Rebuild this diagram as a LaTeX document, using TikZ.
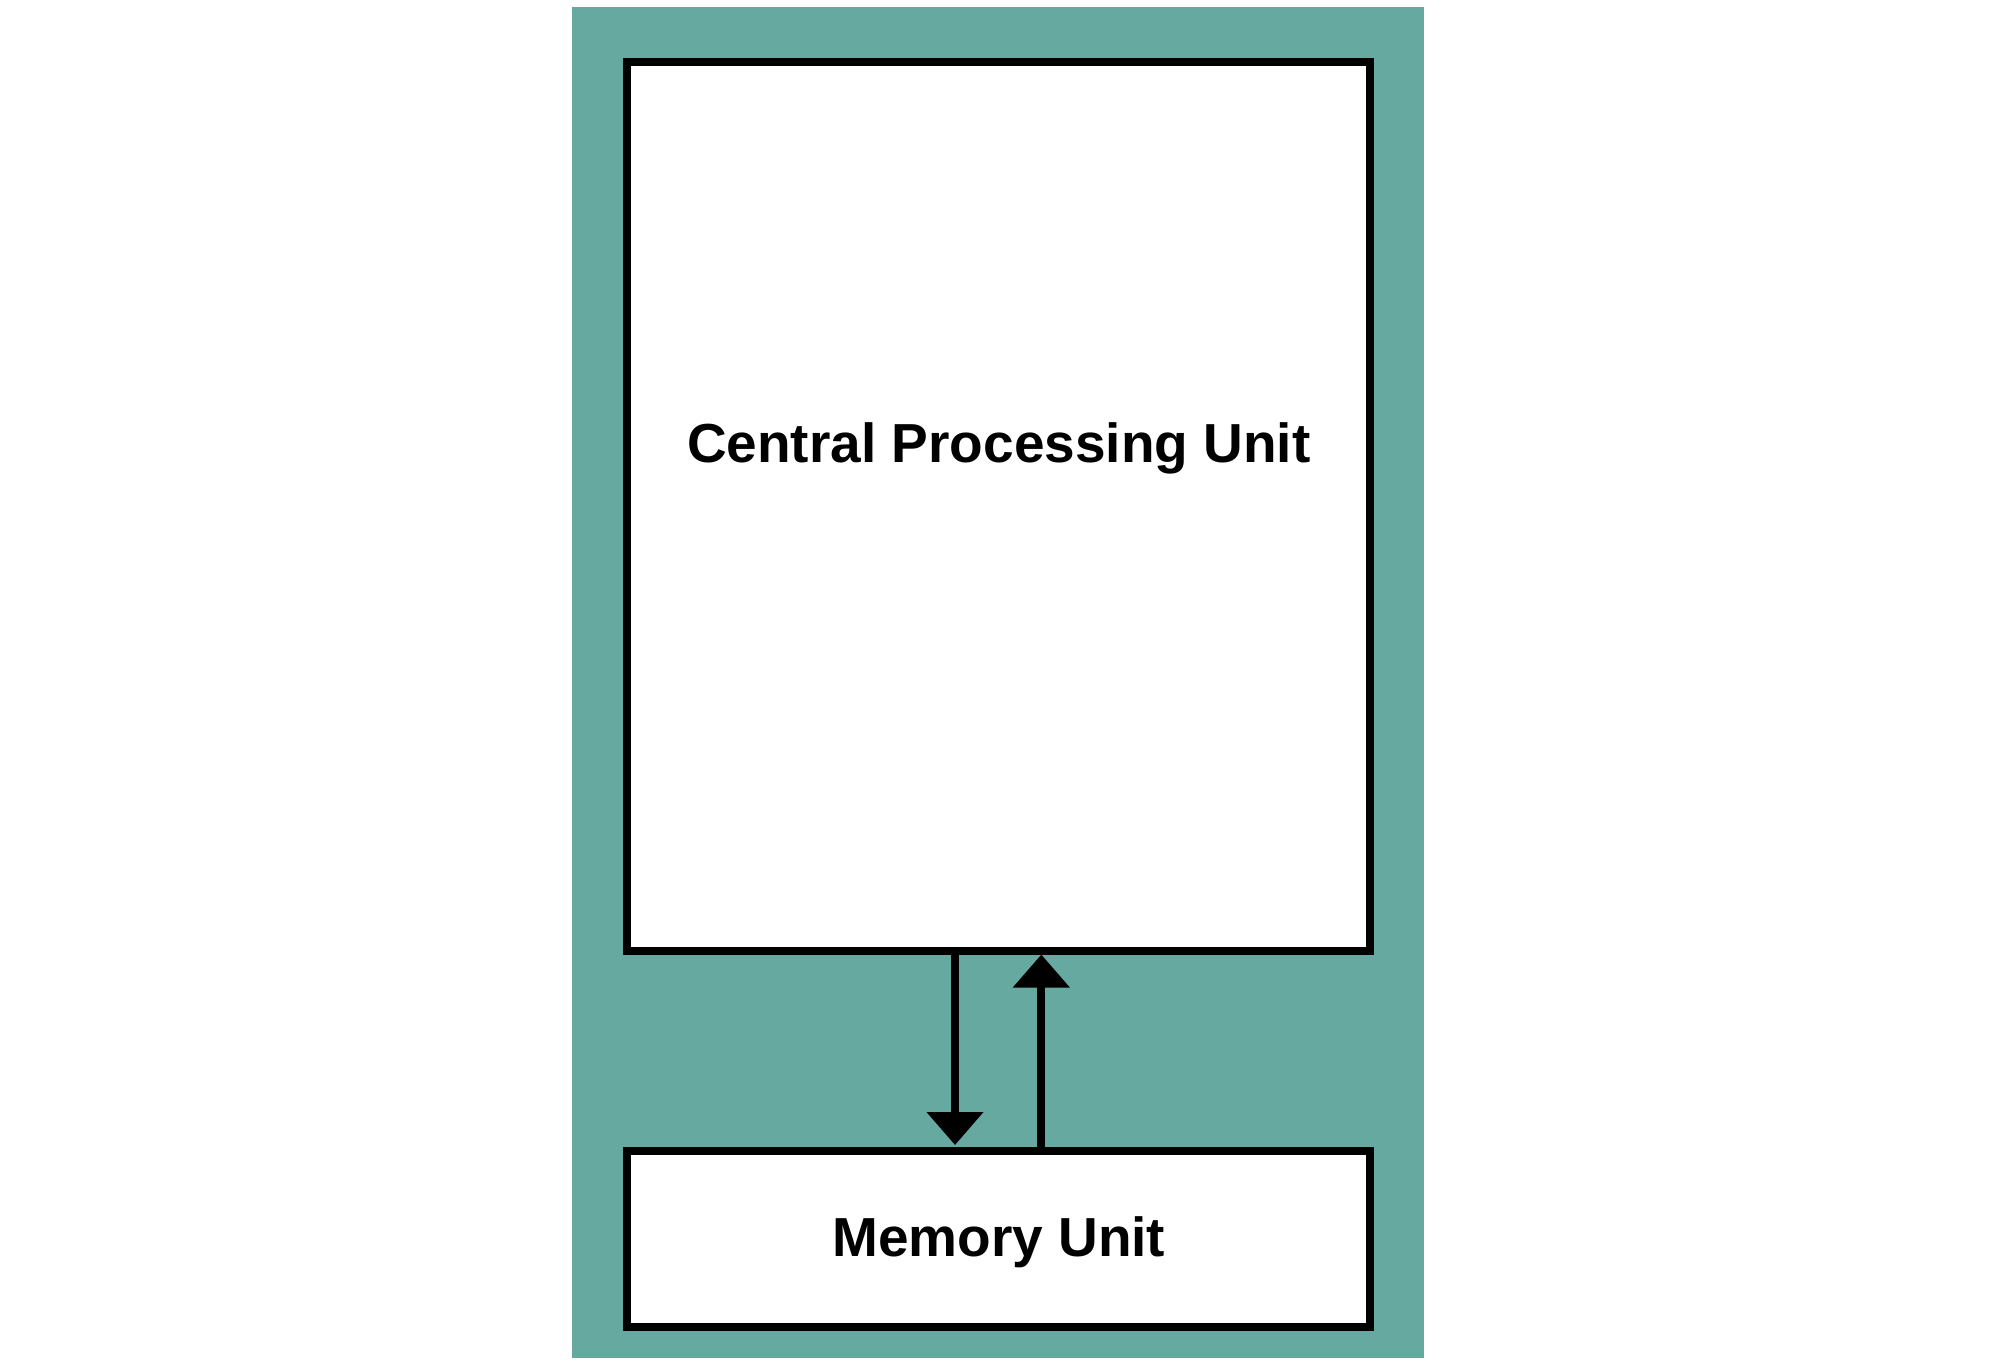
\documentclass[tikz,border=0pt]{standalone}
\usepackage{fontspec}
\setmainfont{Liberation Sans}
\usetikzlibrary{arrows.meta}
\definecolor{teal1}{RGB}{102,169,161}
\tikzset{
  unitbox/.style={draw=black, fill=white, line width=8pt, outer sep=0pt, inner sep=0pt},
  lbl/.style={font=\fontsize{55}{60}\selectfont\bfseries, anchor=base, inner sep=0pt},
  flow/.style={line width=8pt, -{Triangle[width=55pt,length=33pt]}}
}
\begin{document}
\begin{tikzpicture}[x=1pt,y=-1pt]
\useasboundingbox (0,0) rectangle (1996,1365);
\fill[teal1] (571.5,7) rectangle (1424.3,1357.5);
\node[unitbox, minimum width=743pt, minimum height=889pt] (cpu) at (998.2,506.5) {};
\node[unitbox, minimum width=743pt, minimum height=176pt] (mem) at (998.2,1239) {};
\node[lbl] (cpul) at (998.8,462.5) {Central Processing Unit};
\node[lbl] (meml) at (998.8,1256.8) {Memory Unit};
\coordinate (dx) at (955,0);
\coordinate (ux) at (1041.3,0);
\draw[flow, shorten >=6pt] (cpu.south -| dx) -- (mem.north -| dx);
\draw[flow, shorten >=3.5pt] (mem.north -| ux) -- (cpu.south -| ux);
\end{tikzpicture}
\end{document}
